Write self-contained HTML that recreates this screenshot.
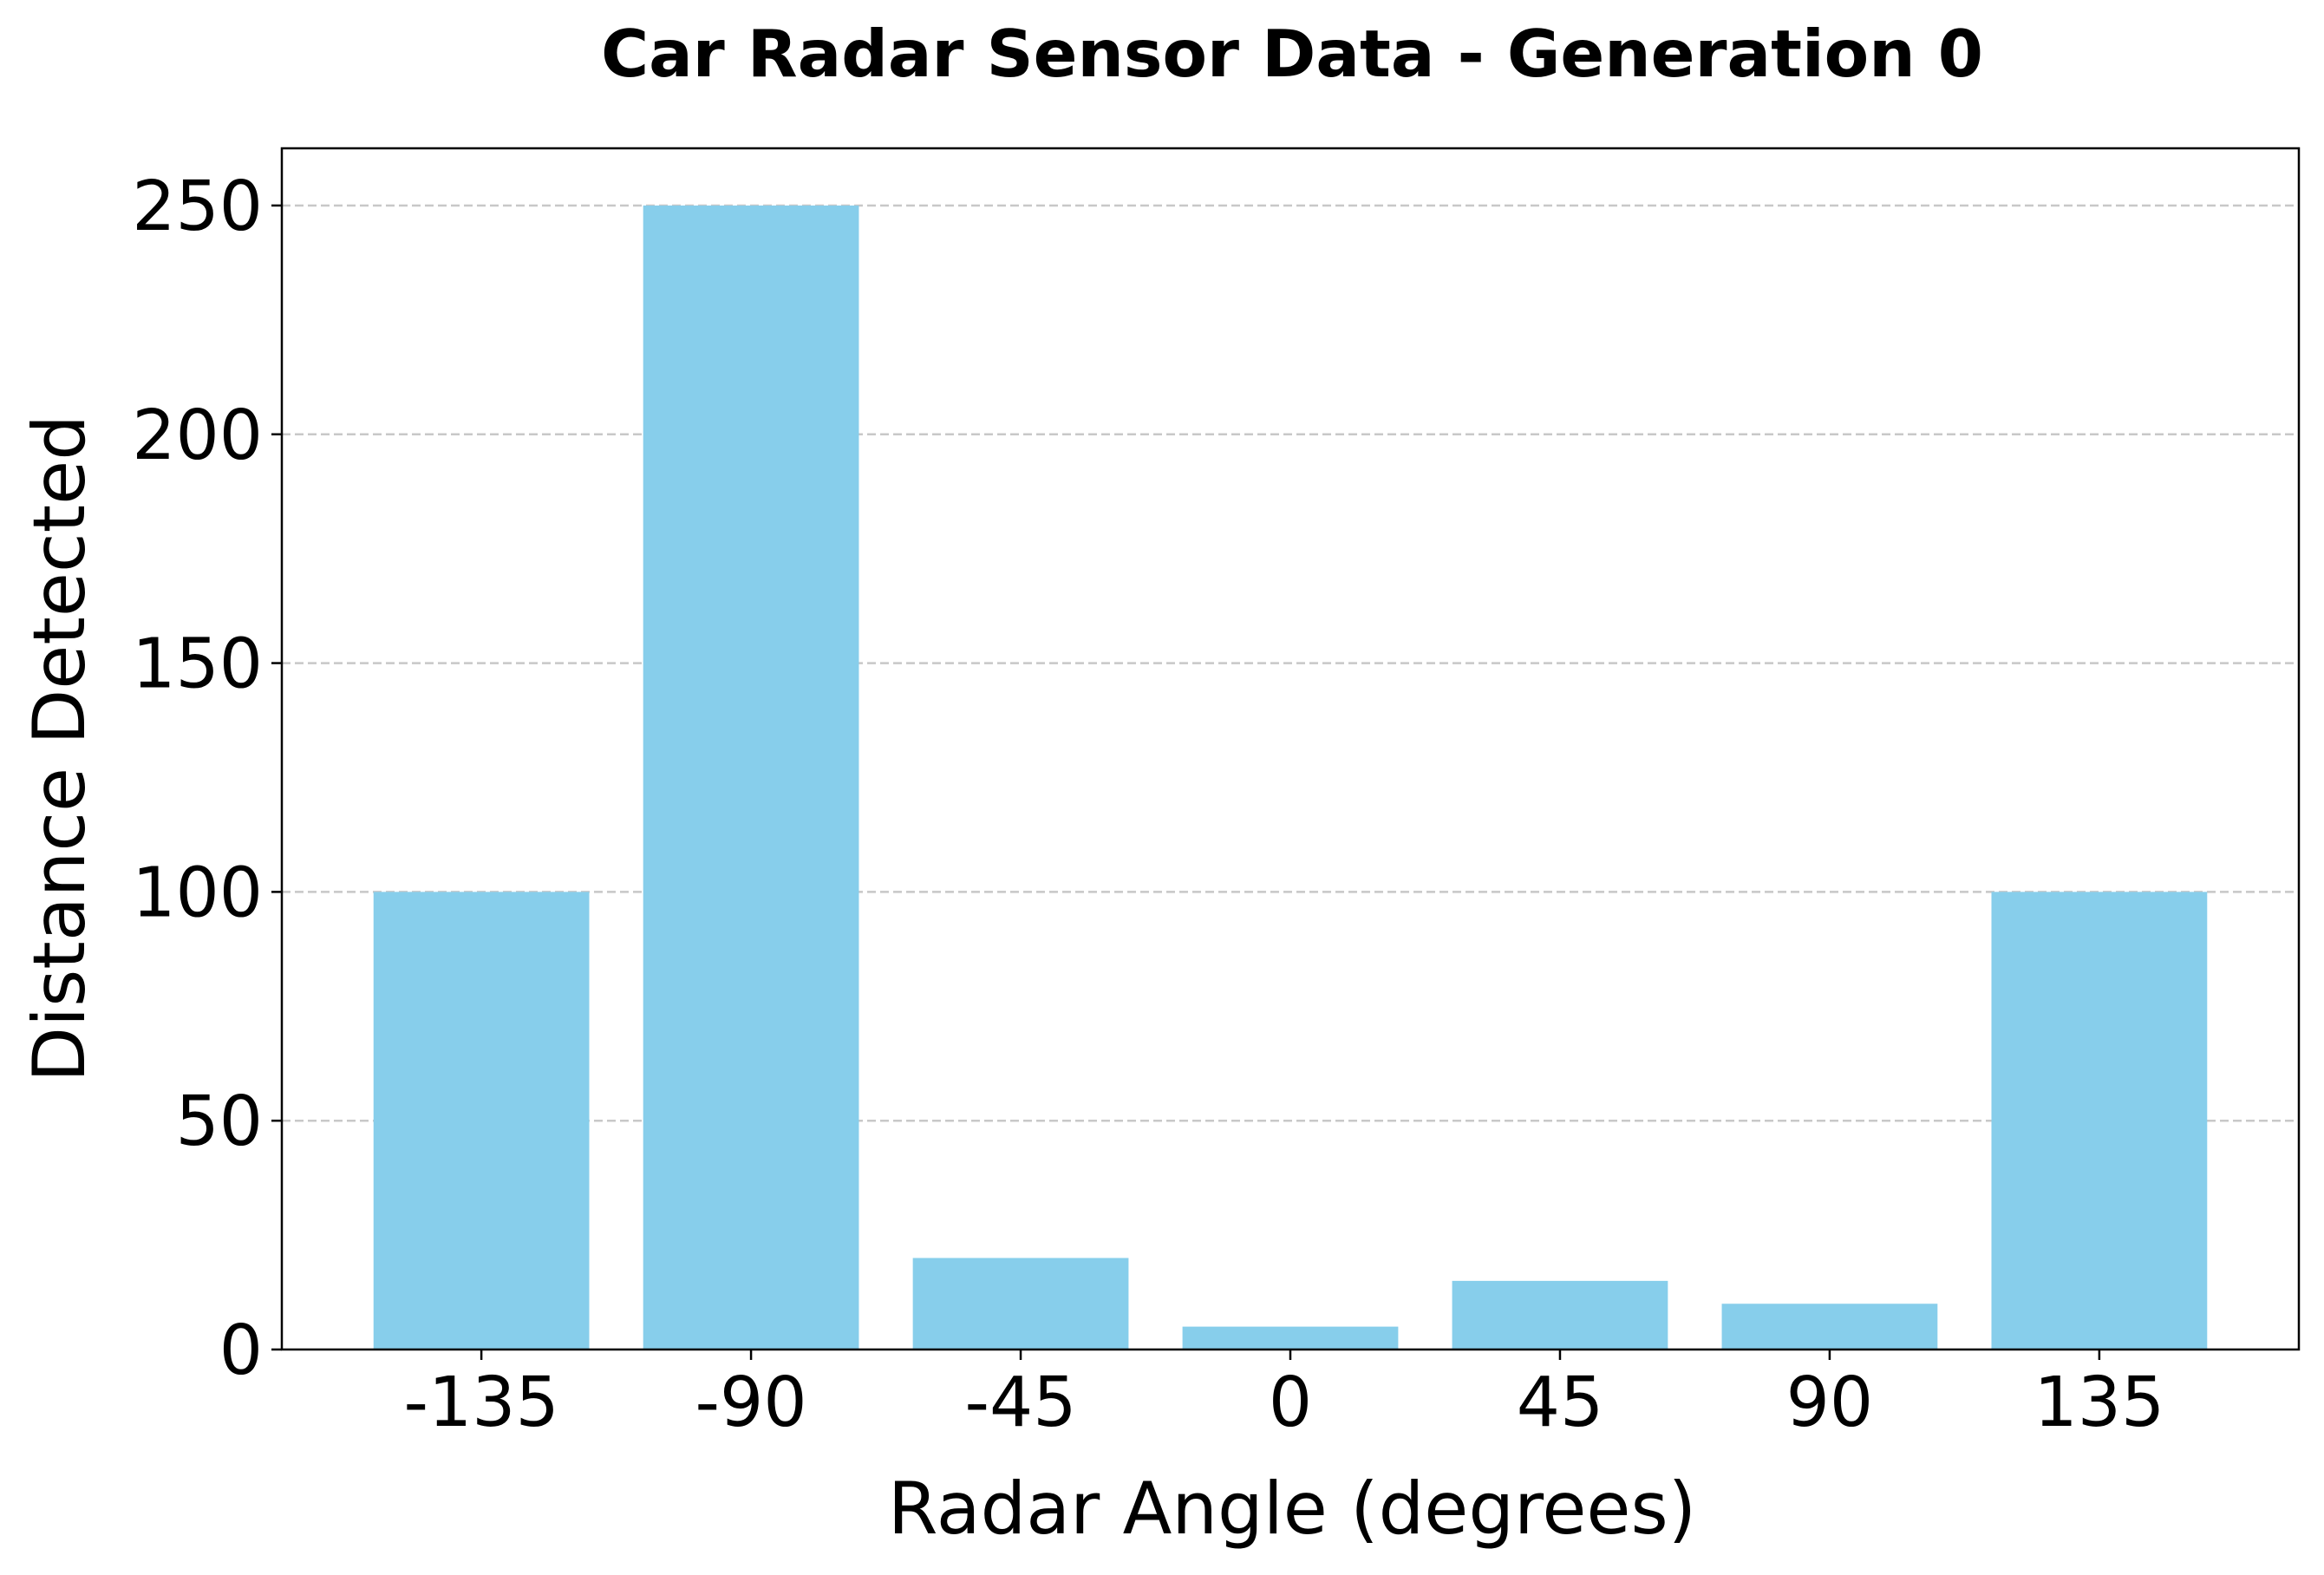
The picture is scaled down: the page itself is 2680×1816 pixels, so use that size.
<!DOCTYPE html>
<html><head><meta charset="utf-8"><style>
html,body{margin:0;padding:0;background:#fff}
svg text{font-family:"DejaVu Sans","Liberation Sans",sans-serif;fill:#000}
</style></head><body>
<svg id="chart" width="2680" height="1811" viewBox="0 0 2680 1811" xmlns="http://www.w3.org/2000/svg">
<text x="1490" y="88" text-anchor="middle" font-size="75" font-weight="bold">Car Radar Sensor Data - Generation 0</text>
<g id="grid"></g>
<g id="bars"></g>
<g id="axes"></g>
<text x="1490" y="1768" text-anchor="middle" font-size="83">Radar Angle (degrees)</text>
<text transform="translate(97,863) rotate(-90)" text-anchor="middle" font-size="83">Distance Detected</text>
</svg>
<script>
const categories = [-135, -90, -45, 0, 45, 90, 135];
const values = [100, 250, 20, 5, 15, 10, 100];
const yTicks = [0, 50, 100, 150, 200, 250];
const xTickLabels = ["-135", "-90", "-45", "0", "45", "90", "135"];

const L = 325, R = 2651, T = 171, B = 1556;
const xMin = -168.3, xMax = 168.3, yMin = 0, yMax = 262.5;
const xs = v => L + (v - xMin) / (xMax - xMin) * (R - L);
const ys = v => B - (v - yMin) / (yMax - yMin) * (B - T);
const NS = "http://www.w3.org/2000/svg";
function mk(tag, attrs, parent) {
  const e = document.createElementNS(NS, tag);
  for (const k in attrs) e.setAttribute(k, attrs[k]);
  parent.appendChild(e);
  return e;
}
const grid = document.getElementById('grid');
const bars = document.getElementById('bars');
const axes = document.getElementById('axes');

yTicks.forEach(t => {
  const y = ys(t);
  if (t > 0) {
    const g = mk('line', {x1: L, x2: R, y1: y, y2: y, stroke: '#c8c8c8', 'stroke-width': 2.5, 'stroke-dasharray': '10,5'}, grid);
    
    
  }
  const tk = mk('line', {x1: L - 12, x2: L, y1: y, y2: y, stroke: '#000', 'stroke-width': 2.5}, axes);
  
  
  const tx = mk('text', {x: L - 22, y: y + 28, 'text-anchor': 'end', 'font-size': 79}, axes);
  tx.textContent = String(t);
  
  
});

const barW = 36;
categories.forEach((c, i) => {
  const x0 = xs(c - barW / 2), x1 = xs(c + barW / 2);
  const b = mk('rect', {x: x0, y: ys(values[i]), width: x1 - x0, height: ys(0) - ys(values[i]), fill: '#87ceeb'}, bars);
  
  
  const x = xs(c);
  const tk = mk('line', {x1: x, x2: x, y1: B, y2: B + 12, stroke: '#000', 'stroke-width': 2.5}, axes);
  
  
  const tx = mk('text', {x: x, y: B + 88, 'text-anchor': 'middle', 'font-size': 79}, axes);
  tx.textContent = xTickLabels[i];
  
  
});

const frame = mk('rect', {x: L, y: T, width: R - L, height: B - T, fill: 'none', stroke: '#000', 'stroke-width': 2.5}, axes);


</script>
</body></html>
